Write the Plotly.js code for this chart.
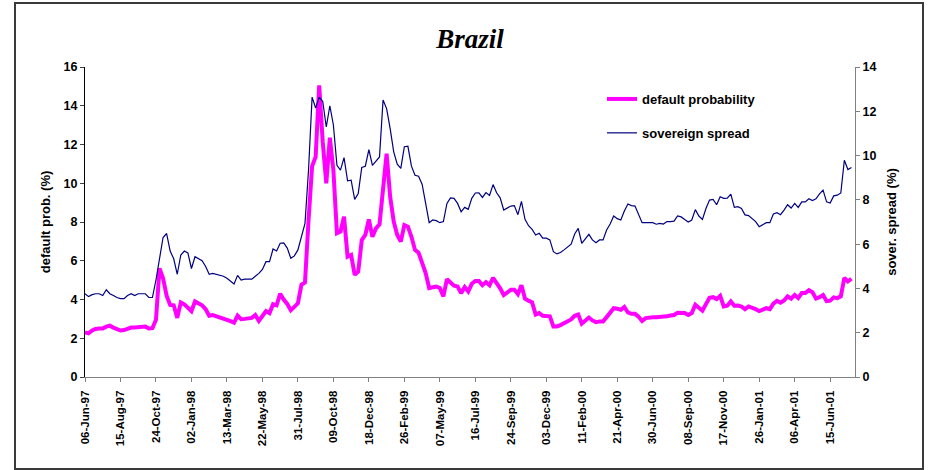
<!DOCTYPE html>
<html>
<head>
<meta charset="utf-8">
<script src="https://cdn.plot.ly/plotly-3.0.1.min.js"></script>
<style>
  html, body { margin: 0; padding: 0; background: #ffffff; }
  #chart { width: 930px; height: 470px; }
</style>
</head>
<body>
<div id="chart"></div>
<script>
// Weekly observations, first week 06-Jun-97
const startDate = [1997, 5, 6];

// default probability (%), left axis
const defaultProb = [
  2.3, 2.25, 2.4, 2.48, 2.5, 2.5, 2.6, 2.65, 2.55, 2.45, 2.4, 2.42, 2.5, 2.55, 2.55, 2.57, 2.57, 2.6, 2.5, 2.52,
  2.95, 5.6, 5.1, 4.2, 3.72, 3.7, 3.05, 3.85, 3.75, 3.6, 3.4, 3.9, 3.8, 3.7, 3.5, 3.16, 3.2, 3.15, 3.08, 3.0,
  2.95, 2.88, 2.8, 3.17, 2.98, 3.0, 3.03, 3.05, 3.2, 2.9, 3.15, 3.4, 3.3, 3.76, 3.7, 4.3, 4.0, 3.77, 3.44, 3.61,
  3.8, 4.76, 4.88, 8.1, 10.88, 11.36, 15.05, 12.13, 9.99, 12.35, 10.68, 7.42, 7.5, 8.27, 6.21, 6.3, 5.27, 5.44, 7.07, 7.33,
  8.13, 7.24, 7.67, 7.88, 9.56, 11.53, 9.3, 8.02, 7.33, 6.99, 7.84, 7.76, 7.24, 6.56, 6.42, 5.84, 5.36, 4.59, 4.62, 4.67,
  4.59, 4.16, 5.05, 4.88, 4.71, 4.67, 4.33, 4.64, 4.41, 4.81, 4.96, 4.96, 4.74, 4.9, 4.74, 5.12, 4.88, 4.58, 4.23, 4.36,
  4.5, 4.5, 4.28, 4.74, 4.04, 3.94, 3.85, 3.22, 3.3, 3.16, 3.13, 3.13, 2.61, 2.61, 2.68, 2.79, 2.87, 2.97, 3.16, 3.22,
  2.75, 2.9, 3.07, 2.92, 2.83, 2.87, 2.87, 3.09, 3.3, 3.55, 3.52, 3.47, 3.62, 3.33, 3.26, 3.26, 3.11, 2.89, 3.04, 3.08,
  3.08, 3.08, 3.09, 3.09, 3.13, 3.17, 3.2, 3.32, 3.3, 3.3, 3.2, 3.3, 3.73, 3.58, 3.42, 3.76, 4.09, 4.12, 4.02, 4.19,
  3.64, 3.68, 3.9, 3.68, 3.69, 3.64, 3.5, 3.64, 3.58, 3.5, 3.4, 3.5, 3.55, 3.5, 3.79, 3.93, 3.83, 3.95, 4.16, 4.04,
  4.23, 4.07, 4.33, 4.33, 4.48, 4.38, 4.05, 4.12, 4.23, 3.92, 3.94, 4.11, 4.07, 4.16, 5.11, 4.93, 5.07
];

// sovereign spread (%), right axis
const sovSpread = [
  3.76, 3.63, 3.72, 3.76, 3.76, 3.68, 3.94, 3.76, 3.68, 3.59, 3.54, 3.54, 3.68, 3.76, 3.68, 3.76, 3.76, 3.76, 3.59, 3.59,
  4.38, 5.43, 6.3, 6.48, 5.69, 5.34, 4.64, 5.51, 5.69, 5.6, 4.9, 5.43, 5.34, 5.25, 4.99, 4.64, 4.68, 4.64, 4.59, 4.55,
  4.46, 4.33, 4.2, 4.59, 4.38, 4.42, 4.42, 4.42, 4.55, 4.68, 4.86, 5.21, 5.21, 5.78, 5.69, 6.04, 6.06, 5.82, 5.36, 5.47,
  5.74, 6.3, 6.94, 9.36, 12.64, 12.15, 12.64, 12.44, 11.29, 12.25, 11.38, 9.56, 9.34, 9.91, 8.86, 8.89, 8.02, 8.29, 9.46, 9.52,
  10.27, 9.56, 9.76, 9.94, 12.51, 12.12, 11.22, 10.17, 9.61, 9.42, 10.4, 10.42, 9.52, 9.11, 9.07, 8.71, 7.84, 6.97, 7.09, 7.06,
  6.97, 7.02, 7.84, 8.09, 8.07, 7.84, 7.46, 7.66, 7.57, 8.07, 8.31, 8.32, 8.11, 8.33, 8.2, 8.69, 8.32, 8.09, 7.54, 7.65,
  7.72, 7.74, 7.33, 7.93, 7.12, 6.83, 6.67, 6.41, 6.49, 6.27, 6.27, 6.19, 5.66, 5.56, 5.62, 5.74, 5.85, 6.0, 6.46, 6.71,
  6.04, 6.23, 6.44, 6.19, 6.06, 6.19, 6.19, 6.64, 6.91, 7.27, 7.15, 7.09, 7.5, 7.81, 7.74, 7.72, 7.36, 6.97, 6.97, 6.96,
  6.97, 6.9, 6.94, 6.91, 7.02, 7.02, 7.04, 7.27, 7.23, 7.11, 7.0, 7.09, 7.56, 7.27, 7.12, 7.61, 7.99, 8.02, 7.78, 8.14,
  8.07, 8.08, 8.26, 7.66, 7.69, 7.61, 7.32, 7.29, 7.15, 7.02, 6.79, 6.9, 6.97, 6.97, 7.36, 7.42, 7.33, 7.54, 7.78, 7.63,
  7.84, 7.66, 7.91, 7.91, 8.05, 7.97, 8.05, 8.27, 8.44, 7.91, 7.86, 8.18, 8.21, 8.31, 9.79, 9.37, 9.46
];

// x-axis tick labels
const tickLabels = [
  '06-Jun-97','15-Aug-97','24-Oct-97','02-Jan-98','13-Mar-98','22-May-98','31-Jul-98',
  '09-Oct-98','18-Dec-98','26-Feb-99','07-May-99','16-Jul-99','24-Sep-99','03-Dec-99',
  '11-Feb-00','21-Apr-00','30-Jun-00','08-Sep-00','17-Nov-00','26-Jan-01','06-Apr-01','15-Jun-01'
];

const seriesNames = ['default probability', 'sovereign spread'];

// ---- build weekly category labels ----
const monthNames = ['Jan','Feb','Mar','Apr','May','Jun','Jul','Aug','Sep','Oct','Nov','Dec'];
function fmt(d) {
  const dd = String(d.getUTCDate()).padStart(2, '0');
  const yy = String(d.getUTCFullYear() % 100).padStart(2, '0');
  return dd + '-' + monthNames[d.getUTCMonth()] + '-' + yy;
}
const weeks = defaultProb.map((_, i) =>
  fmt(new Date(Date.UTC(startDate[0], startDate[1], startDate[2] + 7 * i))));
const tickIdx = tickLabels.map(t => weeks.indexOf(t));

const nCat = weeks.length;
const xRange = [0, nCat];

const FONT = 'Liberation Sans, Arial, sans-serif';

const traces = [
  {
    x: weeks, y: defaultProb, name: seriesNames[0], type: 'scatter', mode: 'lines',
    line: { color: '#FF00FF', width: 4 }, xaxis: 'x', yaxis: 'y', legendgroup: 'a'
  },
  {
    x: weeks, y: sovSpread, name: seriesNames[1], type: 'scatter', mode: 'lines',
    line: { color: '#000080', width: 1.2 }, xaxis: 'x', yaxis: 'y2', legendgroup: 'b'
  }
];

// plot area pixels
const L = 85, R = 855, T = 67, B = 377, W = 930, H = 470;
const px = v => (v - L) / (R - L);
const py = v => (B - v) / (B - T);

const layout = {
  width: W, height: H,
  margin: { l: L, r: W - R, t: T, b: H - B, pad: 0 },
  paper_bgcolor: '#ffffff', plot_bgcolor: '#ffffff',
  font: { family: FONT, color: '#000000', size: 12, weight: 'bold' },
  title: {
    text: 'Brazil',
    font: { family: 'Liberation Serif, Times New Roman, serif', size: 27, weight: 'bold', style: 'italic', color: '#000' },
    x: 0.5, xref: 'paper', xanchor: 'center',
    y: 1 - 39 / H, yref: 'container', yanchor: 'middle'
  },
  showlegend: true,
  legend: {
    x: px(602), y: py(84), xanchor: 'left', yanchor: 'top',
    bgcolor: 'rgba(0,0,0,0)', borderwidth: 0,
    font: { family: FONT, size: 13, weight: 'bold', color: '#000' },
    tracegroupgap: 14, traceorder: 'grouped'
  },
  xaxis: {
    type: 'category', categoryorder: 'array', categoryarray: weeks,
    range: xRange, autorange: false,
    tickmode: 'array', tickvals: tickLabels, ticktext: tickLabels,
    tickangle: -90, ticks: 'outside', ticklen: 4, tickwidth: 1, tickcolor: '#808080',
    showline: true, linecolor: '#808080', linewidth: 1,
    showgrid: false, zeroline: false,
    tickfont: { family: FONT, size: 11.5, weight: 'bold', color: '#000' },
    ticklabelstandoff: 4
  },
  xaxis2: {
    overlaying: 'x', anchor: 'y', side: 'bottom',
    type: 'linear', range: xRange, autorange: false,
    tickmode: 'array', tickvals: tickIdx,
    ticks: 'inside', ticklen: 4, tickwidth: 1, tickcolor: '#808080',
    showticklabels: false, showline: false, showgrid: false, zeroline: false
  },
  yaxis: {
    range: [0, 16], autorange: false, dtick: 2, tick0: 0,
    ticks: 'outside', ticklen: 4, tickwidth: 1, tickcolor: '#404040',
    showline: true, linecolor: '#000000', linewidth: 1,
    showgrid: false, zeroline: false,
    tickfont: { family: FONT, size: 12.5, weight: 'bold', color: '#000' },
    title: { text: 'default prob. (%)', font: { family: FONT, size: 13, weight: 'bold', color: '#000' }, standoff: 10 }
  },
  yaxis3: {
    overlaying: 'y', anchor: 'x', side: 'left',
    range: [0, 16], autorange: false, dtick: 2, tick0: 0,
    ticks: 'inside', ticklen: 4, tickwidth: 1, tickcolor: '#404040',
    showticklabels: false, showline: false, showgrid: false, zeroline: false
  },
  yaxis2: {
    overlaying: 'y', side: 'right', anchor: 'x',
    range: [0, 14], autorange: false, dtick: 2, tick0: 0,
    ticks: 'outside', ticklen: 4, tickwidth: 1, tickcolor: '#808080',
    showline: true, linecolor: '#808080', linewidth: 1,
    showgrid: false, zeroline: false,
    tickfont: { family: FONT, size: 12.5, weight: 'bold', color: '#000' },
    title: { text: 'sover. spread (%)', font: { family: FONT, size: 13, weight: 'bold', color: '#000' }, standoff: 11 }
  },
  yaxis4: {
    overlaying: 'y', side: 'right', anchor: 'x',
    range: [0, 14], autorange: false, dtick: 2, tick0: 0,
    ticks: 'inside', ticklen: 4, tickwidth: 1, tickcolor: '#808080',
    showticklabels: false, showline: false, showgrid: false, zeroline: false
  },
  shapes: [{
    type: 'rect', xref: 'paper', yref: 'paper', layer: 'below',
    x0: px(15), x1: px(923), y0: py(469), y1: py(3),
    line: { color: '#3a3a3a', width: 2 }, fillcolor: 'rgba(0,0,0,0)'
  }]
};

Plotly.newPlot('chart', traces, layout, { displayModeBar: false, staticPlot: true });
</script>
</body>
</html>
